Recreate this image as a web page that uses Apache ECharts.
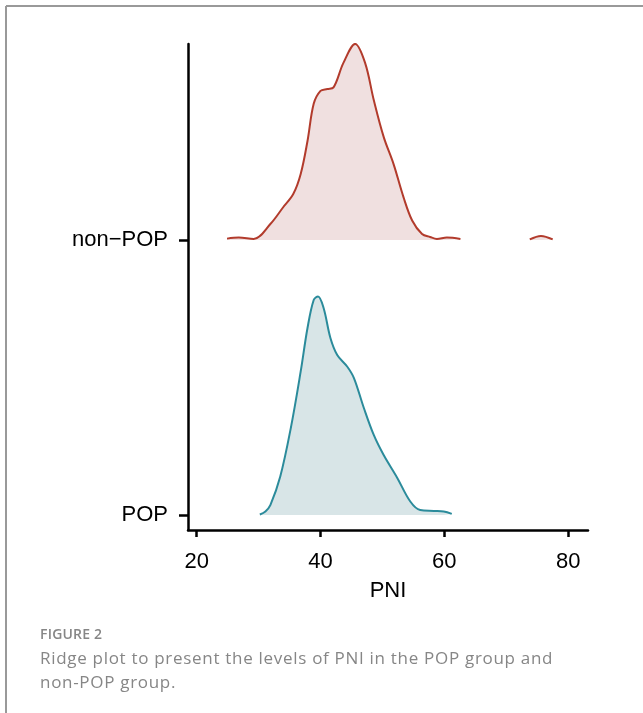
<!DOCTYPE html>
<html>
<head>
<meta charset="utf-8">
<script src="https://cdn.jsdelivr.net/npm/echarts@6/dist/echarts.min.js"></script>
<style>
  html, body { margin: 0; padding: 0; background: #fff; }
  #wrap { position: relative; width: 643px; height: 713px; }
  #chart { width: 643px; height: 713px; }
  .cap { position: absolute; left: 40px; color: #868686; font-family: "Open Sans", sans-serif; white-space: nowrap; }
  #figno { top: 627px; font-size: 14px; line-height: 14px; font-weight: 600; letter-spacing: 0.2px; }
  #figtxt { top: 646px; font-size: 17px; line-height: 24px; letter-spacing: 0.7px; }
</style>
</head>
<body>
<div id="wrap">
  <div id="chart"></div>
  <div class="cap" id="figno">FIGURE 2</div>
  <div class="cap" id="figtxt">Ridge plot to present the levels of PNI in the POP group and<br>non-POP group.</div>
</div>
<script>
// groups (y positions: POP = 1, non-POP = 2)
const groups = ['POP', 'non−POP'];
const xTicks = [20, 40, 60, 80];

// density ridges, heights relative to group spacing
const popPNI = [30.2, 31.1, 31.9, 33.5, 35.2, 36.8, 37.9, 38.9, 39.6, 40.5, 41.6, 42.7, 44.3, 45.4, 47.0, 48.6, 50.2, 52.4, 54.5, 56.1, 58.3, 59.9, 61.2];
const popDensity = [0.002, 0.013, 0.036, 0.140, 0.316, 0.522, 0.680, 0.782, 0.795, 0.753, 0.644, 0.582, 0.540, 0.498, 0.389, 0.291, 0.218, 0.135, 0.049, 0.018, 0.015, 0.013, 0.004];

const nonPopPNI = [24.9, 26.8, 29.2, 31.9, 34.0, 35.6, 36.8, 37.9, 38.9, 40.0, 41.1, 42.1, 43.7, 45.6, 47.2, 48.6, 50.2, 51.8, 53.4, 54.8, 56.4, 57.7, 58.8, 60.4, 62.6];
const nonPopDensity = [0.005, 0.009, 0.004, 0.058, 0.120, 0.167, 0.240, 0.360, 0.495, 0.542, 0.549, 0.555, 0.644, 0.713, 0.644, 0.509, 0.375, 0.276, 0.156, 0.071, 0.022, 0.011, 0.004, 0.009, 0.004];
// small separate bump in the right tail
const nonPopTailPNI = [73.8, 75.6, 77.5];
const nonPopTailDensity = [0.002, 0.015, 0.002];

function ridge(xs, ds, base) {
  return xs.map((x, i) => [x, base + ds[i]]);
}

const nonPopData = ridge(nonPopPNI, nonPopDensity, 2)
  .concat([[68, null]])
  .concat(ridge(nonPopTailPNI, nonPopTailDensity, 2));

const myChart = echarts.init(document.getElementById('chart'));
const font = '"Liberation Sans", Arial, sans-serif';

const option = {
  backgroundColor: '#fff',
  animation: false,
  grid: { left: 188, right: 55, top: 44, bottom: 183 },
  xAxis: {
    type: 'value',
    min: 18.6,
    max: 83.2,
    name: 'PNI',
    nameLocation: 'middle',
    nameGap: 50,
    nameTextStyle: { color: '#000', fontSize: 22, fontFamily: font },
    axisLine: { lineStyle: { color: '#000', width: 2.5 } },
    axisTick: { length: 7, lineStyle: { color: '#000', width: 2.5 }, customValues: xTicks },
    axisLabel: { color: '#000', fontSize: 22, fontFamily: font, margin: 21, customValues: xTicks },
    splitLine: { show: false }
  },
  yAxis: {
    type: 'value',
    min: 0.9455,
    max: 2.7127,
    axisLine: { show: true, lineStyle: { color: '#000', width: 2.5 } },
    axisTick: { show: true, length: 9, lineStyle: { color: '#000', width: 2.5 }, customValues: [1, 2] },
    axisLabel: {
      color: '#000', fontSize: 22, fontFamily: font, margin: 20,
      customValues: [1, 2],
      formatter: v => groups[Math.round(v) - 1]
    },
    splitLine: { show: false }
  },
  series: [
    {
      name: 'POP',
      type: 'line',
      data: ridge(popPNI, popDensity, 1),
      smooth: 0.35,
      symbol: 'none',
      lineStyle: { color: '#2b8b9b', width: 2 },
      areaStyle: { color: '#d8e5e7', opacity: 1, origin: 1 }
    },
    {
      name: 'non-POP',
      type: 'line',
      data: nonPopData,
      smooth: 0.35,
      symbol: 'none',
      lineStyle: { color: '#b23b2c', width: 2 },
      areaStyle: { color: '#f0e0e0', opacity: 1, origin: 2 }
    }
  ],
  graphic: [
    // figure frame (top and left edges)
    { type: 'line', shape: { x1: 6, y1: 6, x2: 643, y2: 6 }, style: { stroke: '#999', lineWidth: 2 } },
    { type: 'line', shape: { x1: 6, y1: 6, x2: 6, y2: 713 }, style: { stroke: '#999', lineWidth: 2 } }
  ]
};

myChart.setOption(option);
</script>
</body>
</html>
